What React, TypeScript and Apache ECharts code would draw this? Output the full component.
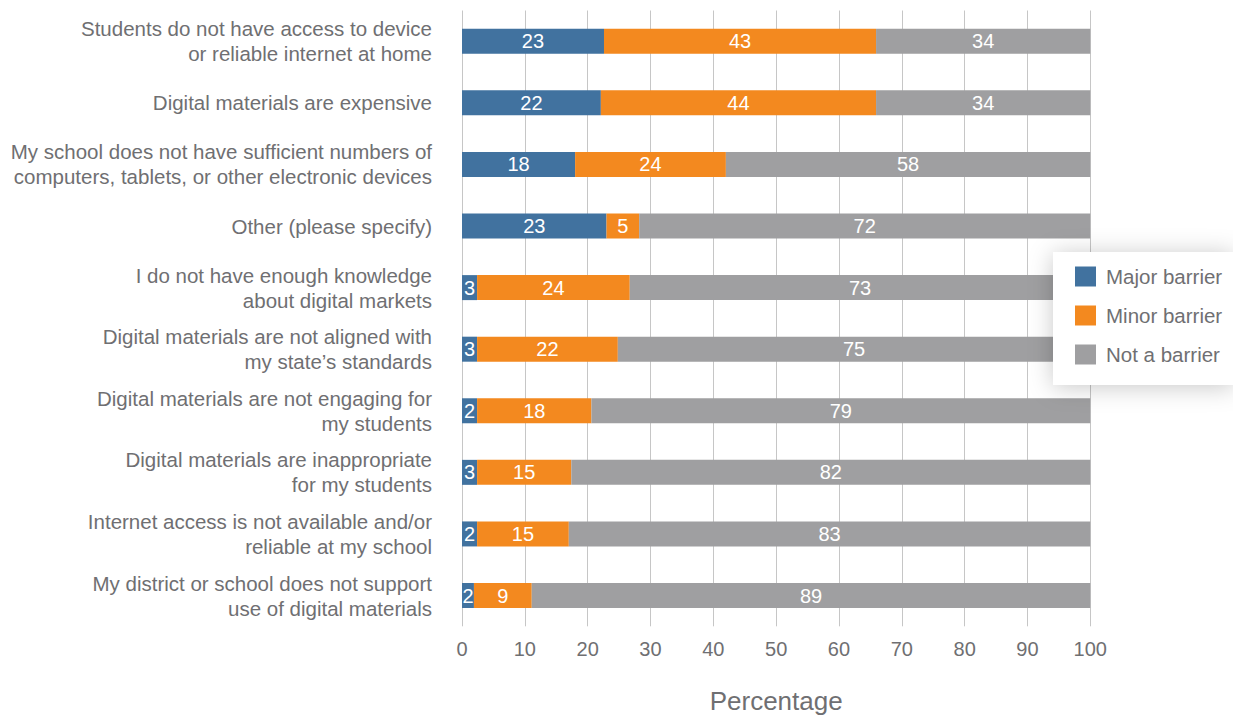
import React, { useEffect, useRef } from "react";
import * as echarts from "echarts";

const categories = [
  "Students do not have access to device\nor reliable internet at home",
  "Digital materials are expensive",
  "My school does not have sufficient numbers of\ncomputers, tablets, or other electronic devices",
  "Other (please specify)",
  "I do not have enough knowledge\nabout digital markets",
  "Digital materials are not aligned with\nmy state\u2019s standards",
  "Digital materials are not engaging for\nmy students",
  "Digital materials are inappropriate\nfor my students",
  "Internet access is not available and/or\nreliable at my school",
  "My district or school does not support\nuse of digital materials",
];

const seriesNames = ["Major barrier", "Minor barrier", "Not a barrier"];

// bar lengths
const majorValues = [22.6, 22.1, 18.0, 23.0, 2.4, 2.4, 2.4, 2.4, 2.4, 1.9];
const minorValues = [43.3, 43.8, 24.0, 5.2, 24.3, 22.4, 18.2, 15.0, 14.6, 9.2];
const notValues = [34.1, 34.1, 58.0, 71.8, 73.3, 75.2, 79.4, 82.6, 83.0, 88.9];

// printed labels
const majorLabels = [23, 22, 18, 23, 3, 3, 2, 3, 2, 2];
const minorLabels = [43, 44, 24, 5, 24, 22, 18, 15, 15, 9];
const notLabels = [34, 34, 58, 72, 73, 75, 79, 82, 83, 89];

const xTicks = { min: 0, max: 100, interval: 10 };

const colors = ["#41729f", "#f3891f", "#9f9fa1"];
const textGray = "#6f6f72";
const font = "'Liberation Sans', Arial, Helvetica, sans-serif";

export default function App() {
  const ref = useRef<HTMLDivElement>(null);

  useEffect(() => {
    document.body.style.margin = "0";
    const chart = echarts.init(ref.current as HTMLDivElement, null, { renderer: "svg" });
    const values = [majorValues, minorValues, notValues];
    const labels = [majorLabels, minorLabels, notLabels];
    chart.setOption({
      animation: false,
      textStyle: { fontFamily: font },
      grid: { left: 462, right: 142.7, top: 10.5, bottom: 95.7, containLabel: false },
      legend: {
        orient: "vertical",
        left: 1053,
        top: 252,
        backgroundColor: "#ffffff",
        shadowBlur: 24,
        shadowColor: "rgba(0,0,0,0.22)",
        shadowOffsetX: 0,
        shadowOffsetY: 2,
        padding: [14, 12, 20, 22],
        itemWidth: 21,
        itemHeight: 20,
        itemGap: 18,
        icon: "rect",
        data: seriesNames,
        textStyle: { fontSize: 20.5, color: textGray, fontFamily: font, padding: [0, 0, 0, 5] },
      },
      xAxis: {
        type: "value",
        min: xTicks.min,
        max: xTicks.max,
        interval: xTicks.interval,
        axisLine: { show: false },
        axisTick: { show: false },
        splitLine: { show: true, lineStyle: { color: "#c6c6c6", width: 1 } },
        axisLabel: { fontSize: 20, color: textGray, margin: 13, fontFamily: font },
        name: "Percentage",
        nameLocation: "middle",
        nameGap: 62,
        nameTextStyle: { fontSize: 26, color: textGray, fontFamily: font },
      },
      yAxis: {
        type: "category",
        inverse: true,
        data: categories,
        axisLine: { show: false },
        axisTick: { show: false },
        splitLine: { show: false },
        axisLabel: {
          fontSize: 20.5,
          lineHeight: 25,
          color: textGray,
          margin: 30,
          align: "right",
          fontFamily: font,
        },
      },
      series: seriesNames.map((name, i) => ({
        name,
        type: "bar",
        stack: "total",
        barWidth: 25,
        itemStyle: { color: colors[i] },
        label: {
          show: true,
          position: "inside",
          color: "#ffffff",
          fontSize: 20,
          fontFamily: font,
          formatter: (p: any) => String(labels[i][p.dataIndex]),
        },
        data: values[i],
      })),
    });
    return () => chart.dispose();
  }, []);

  return (
    <div
      ref={ref}
      style={{ position: "absolute", left: 0, top: 0, width: 1233, height: 722 }}
    />
  );
}
